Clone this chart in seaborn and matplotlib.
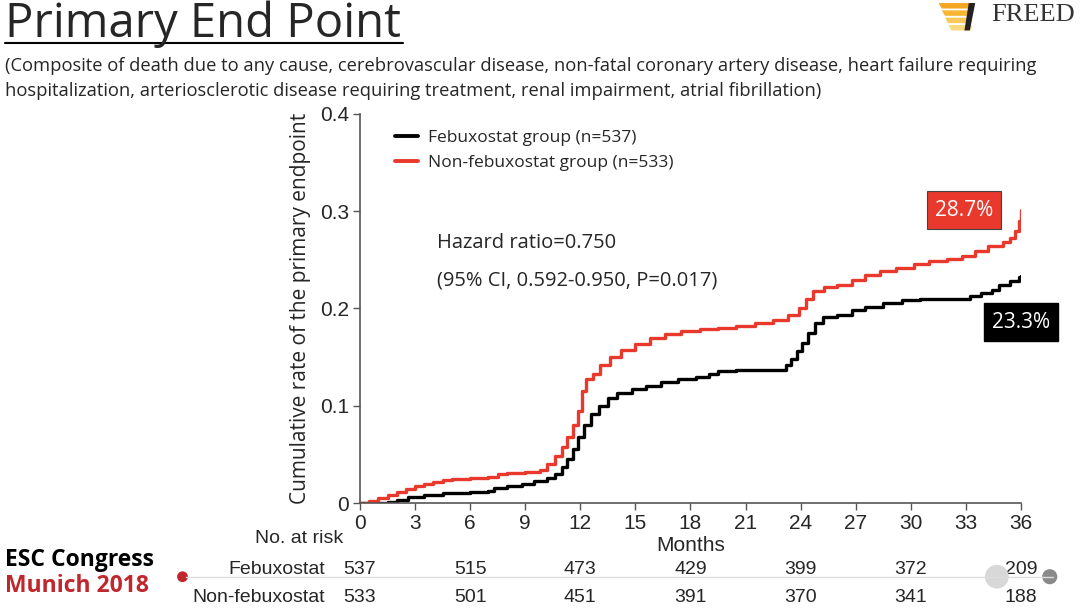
import numpy as np
import pandas as pd
import matplotlib
matplotlib.use("Agg")
import matplotlib.pyplot as plt
import seaborn as sns
from matplotlib.patches import Polygon, Ellipse
from matplotlib.lines import Line2D

# Kaplan-Meier style cumulative rates
febu_months = [0, 1.5, 2, 2.6, 3.5, 4.5, 6, 7, 7.3, 8, 8.8, 9.5, 10.2, 10.6, 11, 11.3, 11.6,
               11.9, 12.2, 12.6, 13, 13.5, 14, 14.8, 15.6, 16.4, 17.3, 18.3, 19, 19.5, 20.5,
               22.9, 23.2, 23.5, 23.8, 24.1, 24.4, 24.8, 25.2, 26, 26.8, 27.5, 28.5, 29.5,
               30.5, 32.8, 33.2, 33.8, 34.4, 34.8, 35.4, 35.9, 36]
febu_rate = [0, 0.001, 0.003, 0.006, 0.008, 0.010, 0.011, 0.012, 0.015, 0.018, 0.020, 0.023,
             0.026, 0.030, 0.037, 0.045, 0.056, 0.068, 0.080, 0.092, 0.100, 0.108, 0.113,
             0.117, 0.120, 0.124, 0.128, 0.130, 0.133, 0.136, 0.137, 0.137, 0.142, 0.148,
             0.156, 0.165, 0.175, 0.185, 0.191, 0.193, 0.198, 0.202, 0.206, 0.209, 0.210,
             0.210, 0.213, 0.216, 0.219, 0.224, 0.228, 0.232, 0.233]

nonfebu_months = [0, 0.5, 1, 1.5, 2, 2.5, 3, 3.5, 4, 4.5, 5, 6, 7, 7.5, 8, 9, 9.8, 10.2, 10.6,
                  11, 11.3, 11.6, 11.9, 12.1, 12.3, 12.7, 13.1, 13.6, 14.2, 15, 15.8, 16.6,
                  17.5, 18.5, 19.5, 20.5, 21.5, 22.5, 23.3, 23.9, 24.3, 24.7, 25.3, 26, 26.8,
                  27.5, 28.3, 29.2, 30.2, 31, 32, 32.8, 33.5, 34.2, 35, 35.4, 35.7, 35.9, 36]
nonfebu_rate = [0, 0.002, 0.005, 0.008, 0.011, 0.014, 0.017, 0.020, 0.022, 0.024, 0.025,
                0.026, 0.027, 0.030, 0.031, 0.032, 0.034, 0.040, 0.048, 0.058, 0.068, 0.080,
                0.095, 0.115, 0.127, 0.133, 0.142, 0.150, 0.157, 0.163, 0.170, 0.174, 0.177,
                0.179, 0.180, 0.182, 0.185, 0.188, 0.193, 0.200, 0.210, 0.218, 0.222, 0.224,
                0.229, 0.234, 0.238, 0.242, 0.246, 0.249, 0.251, 0.254, 0.259, 0.264, 0.268,
                0.272, 0.280, 0.290, 0.301]

risk_months = [0, 6, 12, 18, 24, 30, 36]
risk_febu = [537, 515, 473, 429, 399, 372, 209]
risk_nonfebu = [533, 501, 451, 391, 370, 341, 188]

df = pd.concat([
    pd.DataFrame({"Months": febu_months, "Rate": febu_rate, "Group": "Febuxostat group (n=537)"}),
    pd.DataFrame({"Months": nonfebu_months, "Rate": nonfebu_rate, "Group": "Non-febuxostat group (n=533)"}),
])

sns.set_style("ticks")
plt.rcParams["font.family"] = ["Open Sans", "DejaVu Sans"]
narrow = ["Liberation Sans", "DejaVu Sans"]

RED = "#e8392c"
fig = plt.figure(figsize=(10.8, 6.09), dpi=100)
ax = fig.add_axes([0.3333, 0.174, 0.612, 0.639])

sns.lineplot(data=df, x="Months", y="Rate", hue="Group", ax=ax, drawstyle="steps-post",
             palette=["black", RED], linewidth=2.4, estimator=None)

ax.set_xlim(0, 36)
ax.set_ylim(0, 0.4)
ax.set_xticks(range(0, 37, 3))
ax.set_yticks([0, 0.1, 0.2, 0.3, 0.4])
ax.set_yticklabels(["0", "0.1", "0.2", "0.3", "0.4"], family=narrow, fontsize=15)
ax.set_xticklabels([str(m) for m in range(0, 37, 3)], family=narrow, fontsize=15)
ax.tick_params(axis="both", length=5, width=1, color="#555555", pad=3)
for s in ["left", "bottom"]:
    ax.spines[s].set_color("#555555")
    ax.spines[s].set_linewidth(1.2)
sns.despine(ax=ax)
ax.set_xlabel("")
ax.set_ylabel("Cumulative rate of the primary endpoint", fontsize=15, labelpad=6)

ax.legend(loc="upper left", bbox_to_anchor=(0.03, 1.0), frameon=False, fontsize=12.5,
          handlelength=1.3, handletextpad=0.6, labelspacing=0.55)
for ln in ax.get_legend().get_lines():
    ln.set_linewidth(2.8)

ax.text(0.117, 0.655, "Hazard ratio=0.750", transform=ax.transAxes, fontsize=14.5)
ax.text(0.117, 0.560, "(95% CI, 0.592-0.950, P=0.017)", transform=ax.transAxes, fontsize=14.5)

ax.text(32.9, 0.301, "28.7%", ha="center", va="center", color="white", fontsize=15,
        bbox=dict(boxstyle="square,pad=0.4", fc=RED, ec="#444444", lw=0.8), clip_on=False)
ax.text(36.0, 0.186, "23.3%", ha="center", va="center", color="white", fontsize=15,
        bbox=dict(boxstyle="square,pad=0.4", fc="black", ec="black"), clip_on=False)

# risk table
tr = ax.get_xaxis_transform()
ax.text(18, -0.11, "Months", transform=tr, ha="center", va="center", family=narrow, fontsize=15)
ax.text(-0.9, -0.09, "No. at risk", transform=tr, ha="right", va="center", family=narrow, fontsize=14)
ax.text(-1.9, -0.172, "Febuxostat", transform=tr, ha="right", va="center", family=narrow, fontsize=14)
ax.text(-1.9, -0.242, "Non-febuxostat", transform=tr, ha="right", va="center", family=narrow, fontsize=14)
for m, a, b in zip(risk_months, risk_febu, risk_nonfebu):
    ax.text(m, -0.172, str(a), transform=tr, ha="center", va="center", family=narrow, fontsize=14)
    ax.text(m, -0.242, str(b), transform=tr, ha="center", va="center", family=narrow, fontsize=14)

# slide decorations
fig.text(0.005, 1.0, "Primary End Point", fontsize=34, va="top", ha="left")
fig.add_artist(Line2D([0.005, 0.373], [0.930, 0.930], color="black", lw=1.5))
fig.text(0.005, 0.892, "(Composite of death due to any cause, cerebrovascular disease, non-fatal coronary artery disease, heart failure requiring",
         fontsize=13.2, va="center")
fig.text(0.005, 0.851, "hospitalization, arteriosclerotic disease requiring treatment, renal impairment, atrial fibrillation)",
         fontsize=13.2, va="center")

fig.text(0.995, 0.975, "FREED", family=["Liberation Serif", "DejaVu Serif"], fontsize=19,
         color="#333333", ha="right", va="center")
for i, c in enumerate(["#f5a623", "#f7b733", "#f9c85a", "#fbd97d"]):
    y0 = 0.995 - i * 0.012
    fig.add_artist(Polygon([[0.869 + i * 0.003, y0], [0.900, y0], [0.899, y0 - 0.009],
                            [0.872 + i * 0.003, y0 - 0.009]], closed=True, fc=c, ec="none",
                           transform=fig.transFigure))
fig.add_artist(Polygon([[0.897, 0.995], [0.903, 0.995], [0.898, 0.950], [0.893, 0.950]],
                       closed=True, fc="#222222", ec="none", transform=fig.transFigure))

fig.text(0.005, 0.080, "ESC Congress", fontsize=16.5, weight="bold", color="black", va="center")
fig.text(0.005, 0.038, "Munich 2018", fontsize=16.5, weight="bold", color="#c0272d", va="center")
aspect = 1080 / 609
fig.add_artist(Line2D([0.172, 0.975], [0.053, 0.053], color="#dddddd", lw=1))
for (cx, r, col) in [(0.169, 0.005, "#c0272d"), (0.923, 0.011, "#d8d8d8"), (0.972, 0.007, "#8a8a8a")]:
    fig.add_artist(Ellipse((cx, 0.053), 2 * r, 2 * r * aspect, transform=fig.transFigure,
                           fc=col, ec="none"))

fig.savefig("out.png", dpi=100)
